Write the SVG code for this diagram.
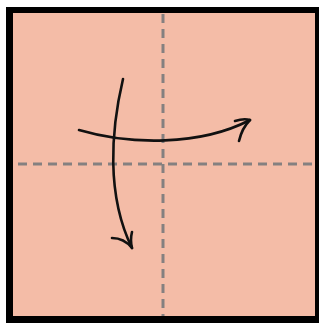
<svg xmlns="http://www.w3.org/2000/svg" width="320" height="325" viewBox="0 0 320 325">
<style>
.fold{stroke:#858080;stroke-width:3;stroke-dasharray:9 6;fill:none}
.arrow{stroke:#111;stroke-width:2.6;fill:none;stroke-linecap:round;stroke-linejoin:round}
</style>
<rect width="320" height="325" fill="#ffffff"/>
<g id="paper">
<path d="M6,7 H319 V323 H6 Z M13,13 V316 H315 V13 Z" fill="#000" fill-rule="evenodd"/>
<rect x="13" y="13" width="302" height="303" fill="#F4BCA7"/>
</g>
<g id="folds">
<line class="fold" x1="163" y1="14" x2="163" y2="316"/>
<line class="fold" x1="18" y1="164" x2="314" y2="164"/>
</g>
<g id="connectors">
<path class="arrow" d="M123,79 C111,130 106,195 132,248"/>
<path class="arrow" d="M112,238 Q124,238 132,248 Q130,240 132,232"/>
<path class="arrow" d="M79,130 C130,145 200,146 250,120"/>
<path class="arrow" d="M235,121 Q244,118 250,120 Q242,128 239,141"/>
</g>
</svg>
